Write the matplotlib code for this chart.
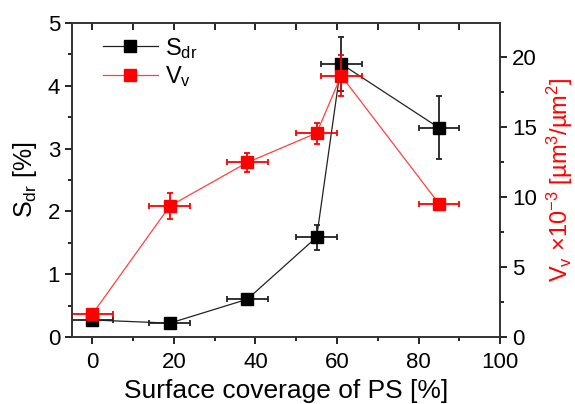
import matplotlib
matplotlib.use('Agg')
from matplotlib import pyplot as plt
from matplotlib.lines import Line2D
from matplotlib.ticker import MultipleLocator

plt.rcParams['font.family'] = 'Liberation Sans'
plt.rcParams['mathtext.fontset'] = 'custom'
plt.rcParams['mathtext.rm'] = 'Liberation Sans'
plt.rcParams['mathtext.it'] = 'Liberation Sans'

# surface coverage of PS [%] and its uncertainty
coverage = [0, 19, 38, 55, 61, 85]
coverage_err = [5, 5, 5, 5, 5, 5]

# S_dr [%]
sdr = [0.27, 0.22, 0.60, 1.59, 4.35, 3.33]
sdr_err = [0.03, 0.03, 0.07, 0.20, 0.43, 0.50]

# V_v x10^-3 [um^3/um^2]
vv = [1.62, 9.34, 12.45, 14.55, 18.65, 9.50]
vv_err = [0.2, 0.95, 0.65, 0.75, 1.45, 0.2]

fig = plt.figure(figsize=(5.75, 4.04), dpi=100)
ax = fig.add_axes([0.125, 0.166, 0.745, 0.777])
ax2 = ax.twinx()

ax.errorbar(coverage, sdr, xerr=coverage_err, yerr=sdr_err, color='#222222',
            ecolor='#222222', mfc='black', mec='black', lw=0.9, elinewidth=1.3,
            capsize=2.5, capthick=1.3, marker='s', ms=8)
ax2.errorbar(coverage, vv, xerr=coverage_err, yerr=vv_err, color='#ff4040',
             ecolor='red', mfc='red', mec='red', lw=0.9, elinewidth=1.3,
             capsize=2.5, capthick=1.3, marker='s', ms=8)

ax.set_xlim(-5, 100)
ax.set_ylim(0, 5)
ax2.set_ylim(0, 22.4)

ax.xaxis.set_major_locator(MultipleLocator(20))
ax.xaxis.set_minor_locator(MultipleLocator(10))
ax.yaxis.set_major_locator(MultipleLocator(1))
ax.yaxis.set_minor_locator(MultipleLocator(0.5))
ax2.yaxis.set_major_locator(MultipleLocator(5))
ax2.yaxis.set_minor_locator(MultipleLocator(2.5))

ax.tick_params(axis='both', which='both', direction='out', labelsize=16, width=1.2)
ax.tick_params(which='major', length=5)
ax.tick_params(which='minor', length=3)
ax.tick_params(axis='x', which='both', top=True, pad=6)
ax2.tick_params(axis='y', which='both', direction='out', labelsize=16, width=1.2)
ax2.tick_params(which='major', length=5)
ax2.tick_params(which='minor', length=3)
# top ticks point into the plot
for t in ax.xaxis.get_major_ticks() + ax.xaxis.get_minor_ticks():
    t.tick2line.set_marker(3)
    t.tick2line.set_markersize(5)

for a in (ax, ax2):
    for s in a.spines.values():
        s.set_linewidth(1.2)
        s.set_color('#333333')

ax.set_xlabel('Surface coverage of PS [%]', fontsize=19, labelpad=4)
ax.set_ylabel(r'S$_{\rm dr}$ [%]', fontsize=18, labelpad=6)
ax2.set_ylabel(r'V$_{\rm v}$ ×10$^{-3}$ [µm$^3$/µm$^2$]', fontsize=17,
               color='red', labelpad=6)

handles = [
    Line2D([], [], color='#222222', lw=0.9, marker='s', ms=8, mfc='black', mec='black'),
    Line2D([], [], color='#ff4040', lw=0.9, marker='s', ms=8, mfc='red', mec='red'),
]
ax.legend(handles, [r'S$_{\rm dr}$', r'V$_{\rm v}$'], loc='upper left',
          bbox_to_anchor=(0.018, 1.035), frameon=False, fontsize=17,
          handlelength=2.3, borderaxespad=0.6, labelspacing=0.15,
          handletextpad=0.3)

fig.savefig('out.png', dpi=100)
